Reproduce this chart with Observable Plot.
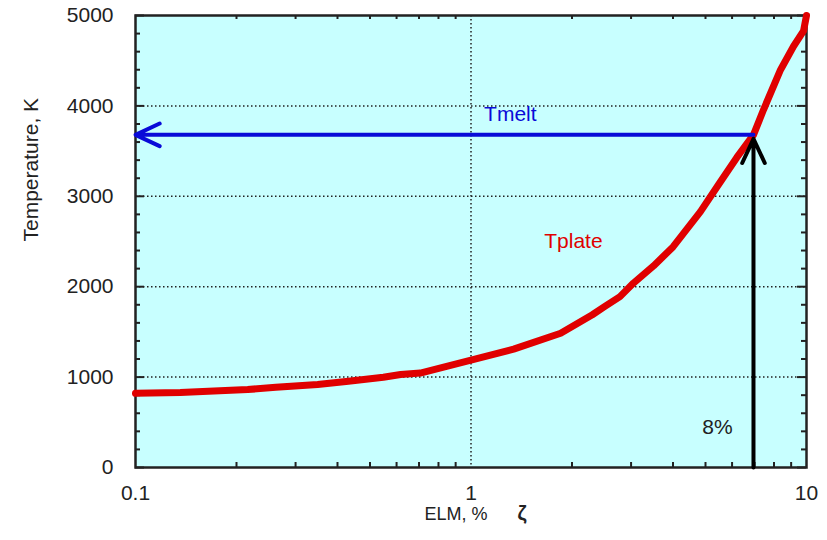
<!DOCTYPE html>
<html><head><meta charset="utf-8">
<script src="https://cdn.jsdelivr.net/npm/d3@7"></script>
<script src="https://cdn.jsdelivr.net/npm/@observablehq/plot@0.6"></script>
<style>body{margin:0;background:#fff;} svg{display:block}</style>
</head><body><div id="chart"></div>
<script>
// ELM energy fraction (%) and plate temperature (K)
const elm    = [0.1, 0.136, 0.216, 0.262, 0.349, 0.431, 0.548, 0.617, 0.706, 1.0, 1.34, 1.85, 2.3, 2.5, 2.78, 3.05, 3.5, 4.0, 4.83, 5.47, 6.2, 6.95, 7.45, 8.37, 9.15, 9.8, 10];
const tplate = [820, 830, 862, 888, 918, 954, 998, 1028, 1045, 1187, 1310, 1485, 1690, 1780, 1890, 2040, 2230, 2440, 2830, 3130, 3430, 3680, 3960, 4400, 4660, 4830, 5000];
const tMelt = 3680;
const elmMelt = 6.95;
const elmMin = 0.1;
const xTicks = [0.1, 1, 10];
const xMinor = [0.2, 0.3, 0.4, 0.5, 0.6, 0.7, 0.8, 0.9, 2, 3, 4, 5, 6, 7, 8, 9];
const yTicks = [0, 1000, 2000, 3000, 4000, 5000];
const yMinor = [200, 400, 600, 800, 1200, 1400, 1600, 1800, 2200, 2400, 2600, 2800, 3200, 3400, 3600, 3800, 4200, 4400, 4600, 4800];
const gridX = [1];
const gridY = [1000, 2000, 3000, 4000];
const notes = [
  {label: "Tmelt", elm: 1.31, temp: 3905, color: "#0a0ad8"},
  {label: "Tplate", elm: 2.02, temp: 2500, color: "#e00000"},
  {label: "8%", elm: 5.43, temp: 442, color: "#222"}
];

const curve = elm.map((e, i) => ({elm: e, temp: tplate[i]}));
const ink = "#222";
const W = 827, H = 540, mL = 135, mR = 21, mT = 15, mB = 73;
const fw = W - mL - mR, fh = H - mT - mB;
const tick = (len) => ({stroke: ink, strokeWidth: 2, len});

const chart = Plot.plot({
  width: W, height: H,
  marginLeft: mL, marginRight: mR, marginTop: mT, marginBottom: mB,
  style: {fontFamily: "'Liberation Sans', Arial, sans-serif", fontSize: "21px", background: "white", color: ink},
  x: {type: "log", domain: [0.1, 10]},
  y: {domain: [0, 5000]},
  marks: [
    Plot.frame({fill: "#c8ffff", stroke: null}),
    Plot.ruleY(gridY, {stroke: ink, strokeWidth: 1.5, strokeDasharray: "1.5,2.5"}),
    Plot.ruleX(gridX, {stroke: ink, strokeWidth: 1.5, strokeDasharray: "1.5,2.5"}),
    // inward ticks
    Plot.tickY(yMinor, {y: d => d, stroke: ink, strokeWidth: 2, insetRight: fw - 5}),
    Plot.tickY(yTicks, {y: d => d, stroke: ink, strokeWidth: 2, insetRight: fw - 9}),
    Plot.tickY(yMinor, {y: d => d, stroke: ink, strokeWidth: 2, insetLeft: fw - 5}),
    Plot.tickY(yTicks, {y: d => d, stroke: ink, strokeWidth: 2, insetLeft: fw - 9}),
    Plot.tickX(xMinor, {x: d => d, stroke: ink, strokeWidth: 2, insetTop: fh - 5}),
    Plot.tickX(xMinor, {x: d => d, stroke: ink, strokeWidth: 2, insetBottom: fh - 4}),
    // tick labels
    Plot.axisY({anchor: "left", ticks: yTicks, tickSize: 0, tickPadding: 22, fontSize: 21, tickFormat: d => String(d), label: null}),
    Plot.axisX({anchor: "bottom", ticks: xTicks, tickSize: 0, tickPadding: 18, fontSize: 21, tickFormat: d => String(d), label: null}),
    Plot.frame({stroke: ink, strokeWidth: 2.5}),
    // curve
    Plot.line(curve, {x: "elm", y: "temp", stroke: "#e00000", strokeWidth: 7, strokeLinejoin: "round"}),
    // melt arrows
    Plot.arrow([{x1: elmMelt, y1: tMelt, x2: elmMin, y2: tMelt}], {x1: "x1", y1: "y1", x2: "x2", y2: "y2", stroke: "#0a0ad8", strokeWidth: 4, headLength: 10, headAngle: 50}),
    Plot.arrow([{x1: elmMelt, y1: 0, x2: elmMelt, y2: tMelt}], {x1: "x1", y1: "y1", x2: "x2", y2: "y2", stroke: "#000", strokeWidth: 4, headLength: 10, headAngle: 50, insetEnd: 4}),
    // annotations
    Plot.text(notes, {x: "elm", y: "temp", text: "label", fill: "color", fontSize: 21}),
    // axis titles
    Plot.text(["Temperature, K"], {frameAnchor: "left", dx: -104, rotate: -90, fontSize: 21, fill: ink}),
    Plot.text(["ELM, %"], {frameAnchor: "bottom", dx: -15, dy: 52, fontSize: 18, fill: ink}),
    Plot.text(["ζ"], {frameAnchor: "bottom", dx: 51, dy: 52, fontSize: 20, fontWeight: "bold", fill: ink})
  ]
});
document.getElementById("chart").appendChild(chart);
</script>
</body></html>
